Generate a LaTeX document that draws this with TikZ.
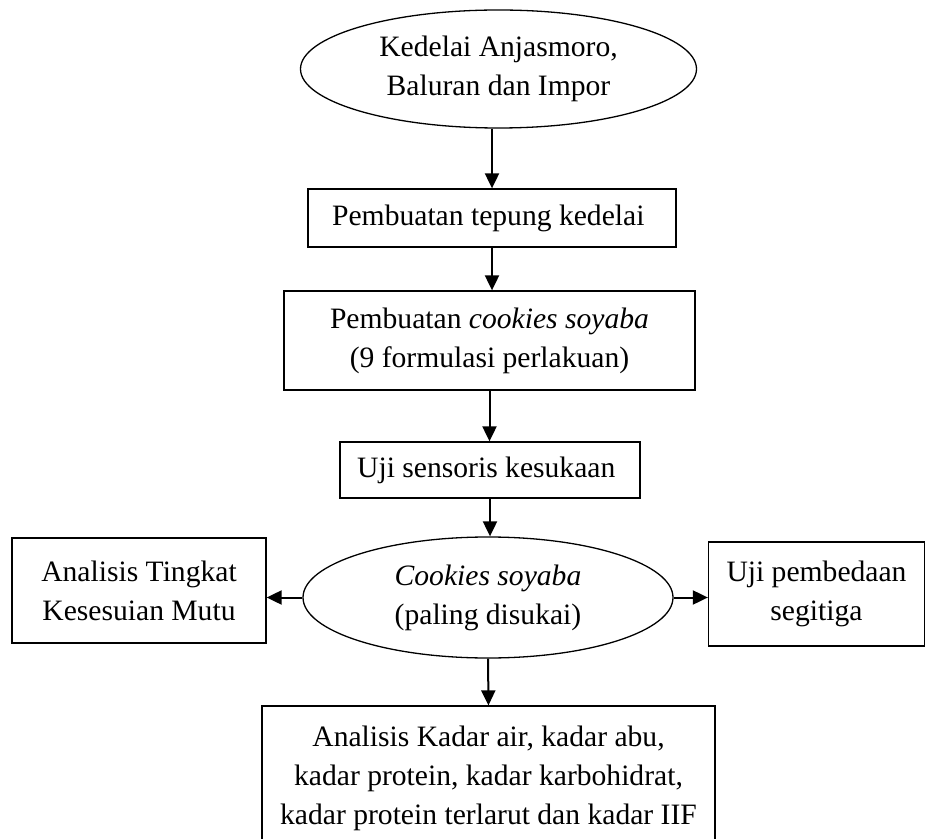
\documentclass[tikz,border=0pt]{standalone}
\usepackage{fontspec}
\setmainfont{Liberation Serif}
\usetikzlibrary{shapes.geometric,arrows.meta}

\begin{document}
\begin{tikzpicture}[
    x=0.5pt, y=-0.5pt,
    every node/.style={font=\fontsize{14.8}{19.5}\selectfont, align=center},
    proc/.style={
        rectangle, draw=black, line width=0.65pt, inner sep=0pt
    },
    bahan/.style={
        ellipse, draw=black, line width=0.65pt, inner sep=0pt
    },
    arr/.style={-{Triangle[length=7.5pt,width=7pt]}, line width=1pt, black}
]
\useasboundingbox (0,0) rectangle (926,839);

% --- Main flow (center) ---
\node[bahan, minimum width=198pt, minimum height=59pt] (kedelai) at (498.5, 69) {
    Kedelai Anjasmoro,\\ Baluran dan Impor
};

\node[proc, minimum width=184pt, minimum height=29pt] (tepung) at (492, 218) {
    Pembuatan tepung kedelai
};

\node[proc, minimum width=205.5pt, minimum height=49.5pt] (cookies) at (489.5, 340.5) {
    Pembuatan \textit{cookies soyaba}\\ (9 formulasi perlakuan)
};

\node[proc, minimum width=150pt, minimum height=28pt] (sensoris) at (490, 470) {
    Uji sensoris kesukaan
};

\node[bahan, minimum width=185pt, minimum height=60.5pt] (favorit) at (488, 597.5) {
    \textit{Cookies soyaba}\\ (paling disukai)
};

% --- Analyses ---
\node[proc, minimum width=127pt, minimum height=52.5pt] (mutu) at (139, 590.5) {
    Analisis Tingkat\\ Kesesuian Mutu
};

\node[proc, minimum width=108pt, minimum height=52pt] (segitiga) at (816.5, 594) {
    Uji pembedaan\\ segitiga
};

\node[proc, minimum width=226.5pt, minimum height=72pt] (kadar) at (488.5, 778) {
    Analisis Kadar air, kadar abu,\\
    kadar protein, kadar karbohidrat,\\
    kadar protein terlarut dan kadar IIF
};

% --- Arrows ---
\draw[arr] (tepung.north |- kedelai.south) -- (tepung.north);
\draw[arr] (tepung.south) -- (tepung.south |- cookies.north);
\draw[arr] (cookies.south) -- (cookies.south |- sensoris.north);
\draw[arr] (sensoris.south) -- (sensoris.south |- favorit.north);
\draw[arr] (favorit.west) -- (favorit.west -| mutu.east);
\draw[arr] (favorit.east) -- (favorit.east -| segitiga.west);
\draw[arr] (favorit.south) -- (kadar.north);

\end{tikzpicture}
\end{document}
